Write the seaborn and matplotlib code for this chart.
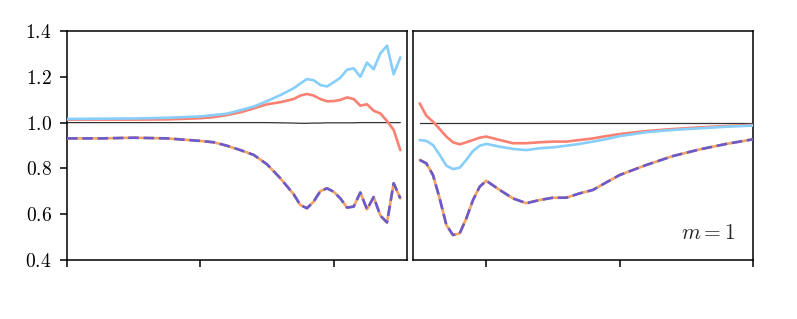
import numpy as np
import pandas as pd
import matplotlib
matplotlib.use('Agg')
import matplotlib.pyplot as plt
from matplotlib.ticker import FuncFormatter
import seaborn as sns

# ─── DATA ─────────────────────────────────────────────────────────────────────
x_left = [0, 0.25, 0.5, 0.75, 1.0, 1.1, 1.2, 1.3, 1.4, 1.5, 1.6, 1.7, 1.75, 1.8,
          1.85, 1.9, 1.95, 2.0, 2.05, 2.1, 2.15, 2.2, 2.25, 2.3, 2.35, 2.4, 2.45, 2.5]
blue_left = [1.016, 1.017, 1.018, 1.021, 1.027, 1.033, 1.039, 1.054, 1.070, 1.094,
             1.120, 1.150, 1.171, 1.190, 1.185, 1.164, 1.158, 1.176, 1.196, 1.231,
             1.237, 1.200, 1.262, 1.233, 1.302, 1.336, 1.211, 1.285]
red_left = [1.013, 1.013, 1.013, 1.014, 1.019, 1.024, 1.033, 1.045, 1.062, 1.080,
            1.089, 1.103, 1.118, 1.125, 1.118, 1.103, 1.093, 1.094, 1.099, 1.110,
            1.103, 1.074, 1.080, 1.052, 1.040, 1.007, 0.968, 0.880]
purple_left = [0.931, 0.931, 0.934, 0.931, 0.920, 0.914, 0.899, 0.880, 0.859, 0.818,
               0.757, 0.687, 0.640, 0.626, 0.655, 0.701, 0.713, 0.698, 0.669, 0.629,
               0.633, 0.695, 0.621, 0.675, 0.594, 0.564, 0.735, 0.669]
black_left = [1.0, 1.0, 1.0, 1.0, 1.0, 1.0, 1.0, 1.0, 1.0, 1.0, 0.999, 0.998, 0.997,
              0.997, 0.998, 0.998, 0.999, 0.999, 0.999, 0.999, 0.999, 1.0, 1.0, 1.0,
              1.0, 1.0, 1.0, 1.0]

x_right = [-0.5, -0.45, -0.4, -0.35, -0.3, -0.25, -0.2, -0.15, -0.1, -0.05, 0, 0.1,
           0.2, 0.3, 0.4, 0.5, 0.6, 0.7, 0.8, 0.9, 1.0, 1.2, 1.4, 1.6, 1.8, 2.0]
red_right = [1.084, 1.030, 1.004, 0.972, 0.939, 0.914, 0.905, 0.914, 0.924, 0.934,
             0.939, 0.924, 0.910, 0.910, 0.914, 0.917, 0.917, 0.924, 0.931, 0.941,
             0.950, 0.963, 0.972, 0.979, 0.985, 0.990]
blue_right = [0.924, 0.920, 0.902, 0.859, 0.812, 0.797, 0.803, 0.837, 0.876, 0.899,
              0.907, 0.895, 0.885, 0.880, 0.888, 0.892, 0.899, 0.907, 0.917, 0.928,
              0.941, 0.958, 0.968, 0.975, 0.982, 0.987]
purple_right = [0.837, 0.822, 0.771, 0.669, 0.553, 0.509, 0.516, 0.582, 0.662, 0.720,
                0.746, 0.706, 0.669, 0.648, 0.662, 0.672, 0.672, 0.691, 0.706, 0.739,
                0.771, 0.815, 0.854, 0.883, 0.907, 0.927]
black_right = [1.0] * len(x_right)

# ─── STYLE ────────────────────────────────────────────────────────────────────
RED = '#FA8072'
BLUE = '#87CEFA'
PURPLE = '#6A5ACD'
ORANGE = '#F4A460'
LW = 1.9

sns.set_style('ticks')
plt.rcParams.update({
    'font.family': ['DejaVu Serif'],
    'mathtext.fontset': 'cm',
    'axes.linewidth': 1.1,
    'xtick.direction': 'out',
    'ytick.direction': 'out',
})

fig = plt.figure(figsize=(7.97, 3.19), dpi=100)
ax_l = fig.add_axes([67 / 797, 59 / 319, 340 / 797, 229 / 319])
ax_r = fig.add_axes([413 / 797, 59 / 319, 340 / 797, 229 / 319])


def draw(ax, x, black, red, blue, purple):
    sns.lineplot(x=x, y=black, ax=ax, color='#333333', lw=0.9, zorder=2)
    sns.lineplot(x=x, y=red, ax=ax, color=RED, lw=LW, zorder=3)
    sns.lineplot(x=x, y=blue, ax=ax, color=BLUE, lw=LW, zorder=3)
    sns.lineplot(x=x, y=purple, ax=ax, color=ORANGE, lw=LW, zorder=4)
    sns.lineplot(x=x, y=purple, ax=ax, color=PURPLE, lw=LW, zorder=5)
    ax.lines[-1].set_dashes((4.0, 1.8))
    ax.set_ylim(0.4, 1.4)
    ax.set_xticks([0, 1, 2])
    ax.set_xticklabels([])
    ax.tick_params(axis='both', length=5, width=1.1, colors='black')
    for s in ax.spines.values():
        s.set_visible(True)
        s.set_color('black')


draw(ax_l, x_left, black_left, red_left, blue_left, purple_left)
ax_l.set_xlim(0, 2.55)
ax_l.set_yticks([0.4, 0.6, 0.8, 1.0, 1.2, 1.4])
ax_l.yaxis.set_major_formatter(FuncFormatter(lambda v, p: f'${v:.1f}$'))
ax_l.tick_params(axis='y', labelsize=14, pad=6)

draw(ax_r, x_right, black_right, red_right, blue_right, purple_right)
ax_r.set_xlim(-0.55, 2.0)
ax_r.set_yticks([])
ax_r.text(0.947, 0.12, r'$m = 1$', transform=ax_r.transAxes,
          ha='right', va='center', fontsize=15.5)

fig.savefig('out.png', dpi=100)
